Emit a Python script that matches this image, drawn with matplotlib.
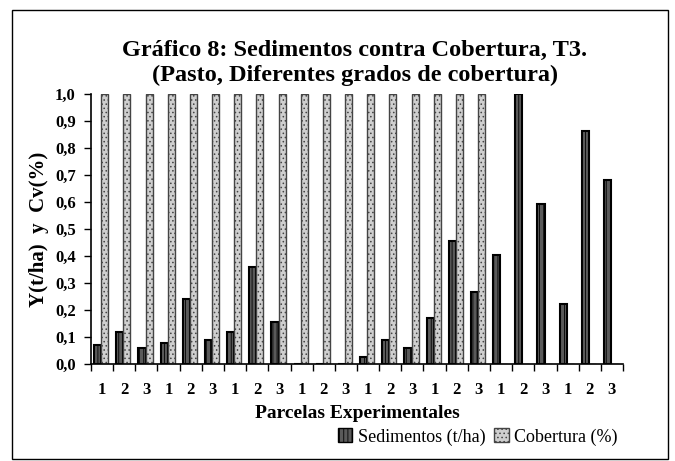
import matplotlib
matplotlib.use('Agg')
import matplotlib.pyplot as plt
from matplotlib.patches import Patch, Rectangle
import numpy as np

plt.rcParams['font.family'] = ['Liberation Serif']
plt.rcParams['hatch.linewidth'] = 0.6

parcelas = ['1', '2', '3'] * 8
sedimentos = [0.07, 0.12, 0.06, 0.077, 0.24, 0.09, 0.12, 0.36, 0.155,
              0.0, 0.0, 0.0, 0.025, 0.09, 0.06, 0.17, 0.457, 0.265,
              0.404, 1.0, 0.593, 0.221, 0.864, 0.681]
cobertura = [1.0] * 18 + [0.0] * 6

x = np.arange(len(parcelas))
w = 0.32
sed_col = '#5a5a5a'
cob_col = '#cfcfcf'

fig = plt.figure(figsize=(6.75, 4.61), dpi=100)
ax = fig.add_axes([91/675, 1-364/461, (623-91)/675, (364-94)/461])

ax.bar(x - w/2 - 0.04, sedimentos, w, facecolor=sed_col, edgecolor='black',
       linewidth=1.5, hatch='||||', label='Sedimentos (t/ha)')
ax.bar(x + w/2 - 0.04, cobertura, w, facecolor=cob_col, edgecolor='#444444',
       linewidth=1.0, hatch='....', label='Cobertura (%)')

ax.set_xlim(-0.5, len(parcelas) - 0.5)
ax.set_ylim(0, 1.0)
ax.set_yticks(np.arange(0, 1.01, 0.1))
ax.set_yticklabels([f'{v:.1f}'.replace('.', ',') for v in np.arange(0, 1.01, 0.1)],
                   fontsize=12, fontweight='bold')
ax.set_xticks(np.arange(-0.5, len(parcelas), 1))
ax.set_xticklabels([])
ax.set_xticks(x, minor=True)
ax.set_xticklabels(parcelas, minor=True, fontsize=12, fontweight='bold')
ax.tick_params(axis='x', which='major', direction='out', length=5, width=1)
ax.tick_params(axis='x', which='minor', length=0, pad=13)
ax.tick_params(axis='y', direction='out', length=5, width=1, pad=6)
for s in ['top', 'right']:
    ax.spines[s].set_visible(False)
ax.spines['left'].set_linewidth(1.2)
ax.spines['bottom'].set_linewidth(1.2)

ax.set_xlabel('Parcelas Experimentales', fontsize=14, fontweight='bold', labelpad=5)
ax.set_ylabel('Y(t/ha)  y  Cv(%)', fontsize=15, fontweight='bold', labelpad=4)

fig.text(0.526, 1-50/461, 'Gráfico 8: Sedimentos contra Cobertura, T3.',
         ha='center', va='center', fontsize=17.5, fontweight='bold')
fig.text(0.526, 1-75/461, '(Pasto, Diferentes grados de cobertura)',
         ha='center', va='center', fontsize=17.5, fontweight='bold')

handles = [Patch(facecolor=sed_col, edgecolor='black', hatch='||||', label='Sedimentos (t/ha)'),
           Patch(facecolor=cob_col, edgecolor='#444444', hatch='....', label='Cobertura (%)')]
fig.legend(handles=handles, loc='center', bbox_to_anchor=(0.708, 1-437/461), ncol=2,
           frameon=False, prop={'family': 'Liberation Serif', 'size': 13},
           handlelength=0.8, handleheight=0.8, handletextpad=0.3, columnspacing=0.5)

fig.add_artist(Rectangle((12/675, 2/461), (668-12)/675, (451-2)/461,
                         transform=fig.transFigure, fill=False, edgecolor='black', linewidth=1))

fig.savefig('out.png', dpi=100)
